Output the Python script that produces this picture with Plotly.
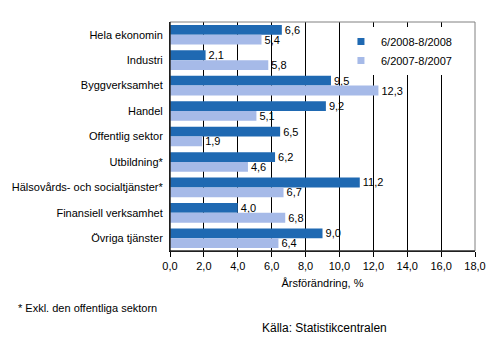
import plotly.graph_objects as go

categories = ["Hela ekonomin", "Industri", "Byggverksamhet", "Handel", "Offentlig sektor",
              "Utbildning*", "Hälsovårds- och socialtjänster*", "Finansiell verksamhet", "Övriga tjänster"]
series_2008 = [6.6, 2.1, 9.5, 9.2, 6.5, 6.2, 11.2, 4.0, 9.0]
series_2007 = [5.4, 5.8, 12.3, 5.1, 1.9, 4.6, 6.7, 6.8, 6.4]
name_2008 = "6/2008-8/2008"
name_2007 = "6/2007-8/2007"
x_ticks = [0, 2, 4, 6, 8, 10, 12, 14, 16, 18]

FONT = "Liberation Sans, Arial, sans-serif"
DARK = "#1F69B2"
LIGHT = "#A6BAE8"

W, H = 498, 344
L, R, T, B = 166, 18, 22, 93
PW, PH = W - L - R, H - T - B

fig = go.Figure()
for vals, nm, col in [(series_2008, name_2008, DARK), (series_2007, name_2007, LIGHT)]:
    fig.add_trace(go.Bar(y=categories, x=vals, orientation="h", name=nm,
                         marker=dict(color=col, line=dict(width=0)),
                         texttemplate="%{x:.1f}", textposition="outside",
                         constraintext="none", textangle=0,
                         textfont=dict(family=FONT, size=11, color="black"),
                         cliponaxis=False, showlegend=False))
# legend entries with small square symbols
for nm, col in [(name_2008, DARK), (name_2007, LIGHT)]:
    fig.add_trace(go.Scatter(x=[None], y=[None], mode="markers", name=nm,
                             marker=dict(symbol="square", size=7, color=col)))

def px_x(p):
    return (p - L) / PW

def px_y(p):
    return (H - B - p) / PH

fig.update_layout(
    width=W, height=H,
    margin=dict(l=L, r=R, t=T, b=B),
    paper_bgcolor="white", plot_bgcolor="white",
    barmode="group", bargap=0.23, bargroupgap=0,
    separators=", ",
    font=dict(family=FONT, size=11, color="black"),
    showlegend=True,
    legend=dict(x=px_x(342), y=px_y(27), xanchor="left", yanchor="top",
                bgcolor="white", borderwidth=0, font=dict(family=FONT, size=11, color="black"),
                tracegroupgap=0, itemsizing="trace"),
    xaxis=dict(range=[0, 18], tickvals=x_ticks, tickformat=".1f",
               showgrid=True, gridcolor="black", gridwidth=1,
               showline=True, linecolor="black", linewidth=1,
               ticks="outside", ticklen=5, tickcolor="black",
               tickfont=dict(family=FONT, size=11, color="black"),
               title=dict(text="Årsförändring, %", font=dict(family=FONT, size=11, color="black"), standoff=8),
               zeroline=False, fixedrange=True),
    yaxis=dict(autorange="reversed", showline=True, linecolor="black", linewidth=1,
               ticks="", tickfont=dict(family=FONT, size=11, color="black"),
               showgrid=False, fixedrange=True, ticklabelstandoff=4),
    shapes=[dict(type="rect", xref="paper", yref="paper", x0=0, x1=1, y0=0, y1=1,
                 line=dict(color="#808080", width=1), layer="above")],
    annotations=[
        dict(text="* Exkl. den offentliga sektorn", xref="paper", yref="paper",
             x=px_x(7), y=px_y(308), xanchor="left", yanchor="middle", showarrow=False,
             font=dict(family=FONT, size=11, color="black")),
        dict(text="Källa: Statistikcentralen", xref="paper", yref="paper",
             x=px_x(325), y=px_y(328), xanchor="center", yanchor="middle", showarrow=False,
             font=dict(family=FONT, size=12, color="black")),
    ],
)
# redraw the black axis lines above the grey frame
fig.add_shape(type="line", xref="paper", yref="paper", x0=0, x1=0, y0=0, y1=1,
              line=dict(color="black", width=1), layer="above")
fig.add_shape(type="line", xref="paper", yref="paper", x0=0, x1=1, y0=0, y1=0,
              line=dict(color="black", width=1), layer="above")

fig.write_html("out.html")
